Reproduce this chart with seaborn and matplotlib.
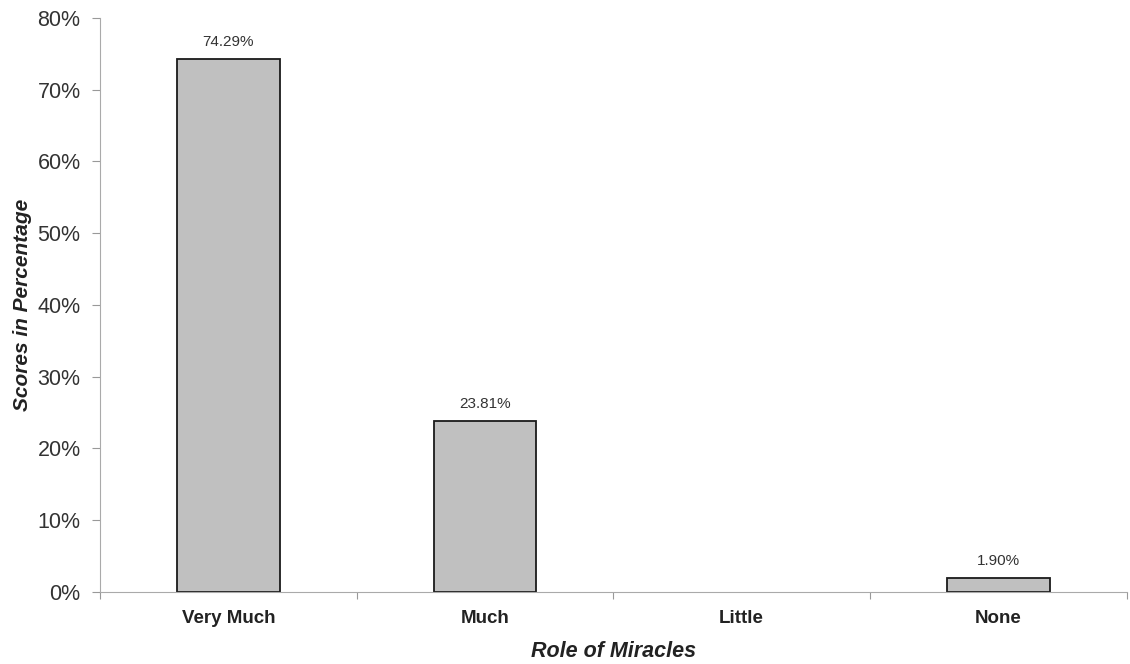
import matplotlib
matplotlib.use("Agg")
import matplotlib.pyplot as plt
import seaborn as sns
import pandas as pd
import numpy as np
from matplotlib.ticker import FixedLocator, PercentFormatter

categories = ["Very Much", "Much", "Little", "None"]
values = [74.29, 23.81, 0.0, 1.90]
labels = ["74.29%", "23.81%", "", "1.90%"]
yticks = [0, 10, 20, 30, 40, 50, 60, 70, 80]

sns.set_theme(style="white")
plt.rcParams['font.family'] = ['Liberation Sans', 'DejaVu Sans']

df = pd.DataFrame({"cat": categories, "val": values})

fig = plt.figure(figsize=(11.3, 6.64), dpi=100)
ax = fig.add_axes([0.0885, 0.1085, 0.9085, 0.8645])

sns.barplot(data=df, x="cat", y="val", color="#c0c0c0", width=0.4,
            edgecolor="#1a1a1a", linewidth=1.3, saturation=1, ax=ax)

for p in ax.patches:
    if p.get_height() == 0:
        p.set_linewidth(0)

for i, (v, lab) in enumerate(zip(values, labels)):
    if lab:
        ax.text(i, v + 1.4, lab, ha="center", va="bottom", fontsize=11, color="#333333")

ax.set_xlim(-0.5, len(categories) - 0.5)
ax.set_ylim(0, 80)
ax.set_yticks(yticks)
ax.yaxis.set_major_formatter(PercentFormatter(decimals=0))
ax.tick_params(axis="y", labelsize=15.5, length=6, width=0.8, color="#999999", labelcolor="#333333", pad=8, left=True)

ax.xaxis.set_minor_locator(FixedLocator(np.arange(-0.5, len(categories), 1.0)))
ax.tick_params(axis="x", which="major", length=0, labelsize=13.5, pad=13, labelcolor="#222222")
ax.tick_params(axis="x", which="minor", length=5, width=0.8, color="#999999", bottom=True)
for t in ax.get_xticklabels():
    t.set_fontweight("bold")

for s in ["top", "right"]:
    ax.spines[s].set_visible(False)
for s in ["left", "bottom"]:
    ax.spines[s].set_color("#aaaaaa")
    ax.spines[s].set_linewidth(0.8)

ax.set_xlabel("Role of Miracles", fontsize=15.5, fontweight="bold", fontstyle="italic", color="#222222", labelpad=10)
ax.set_ylabel("Scores in Percentage", fontsize=15, fontweight="bold", fontstyle="italic", color="#222222", labelpad=4)

fig.savefig("out.png", dpi=100)
